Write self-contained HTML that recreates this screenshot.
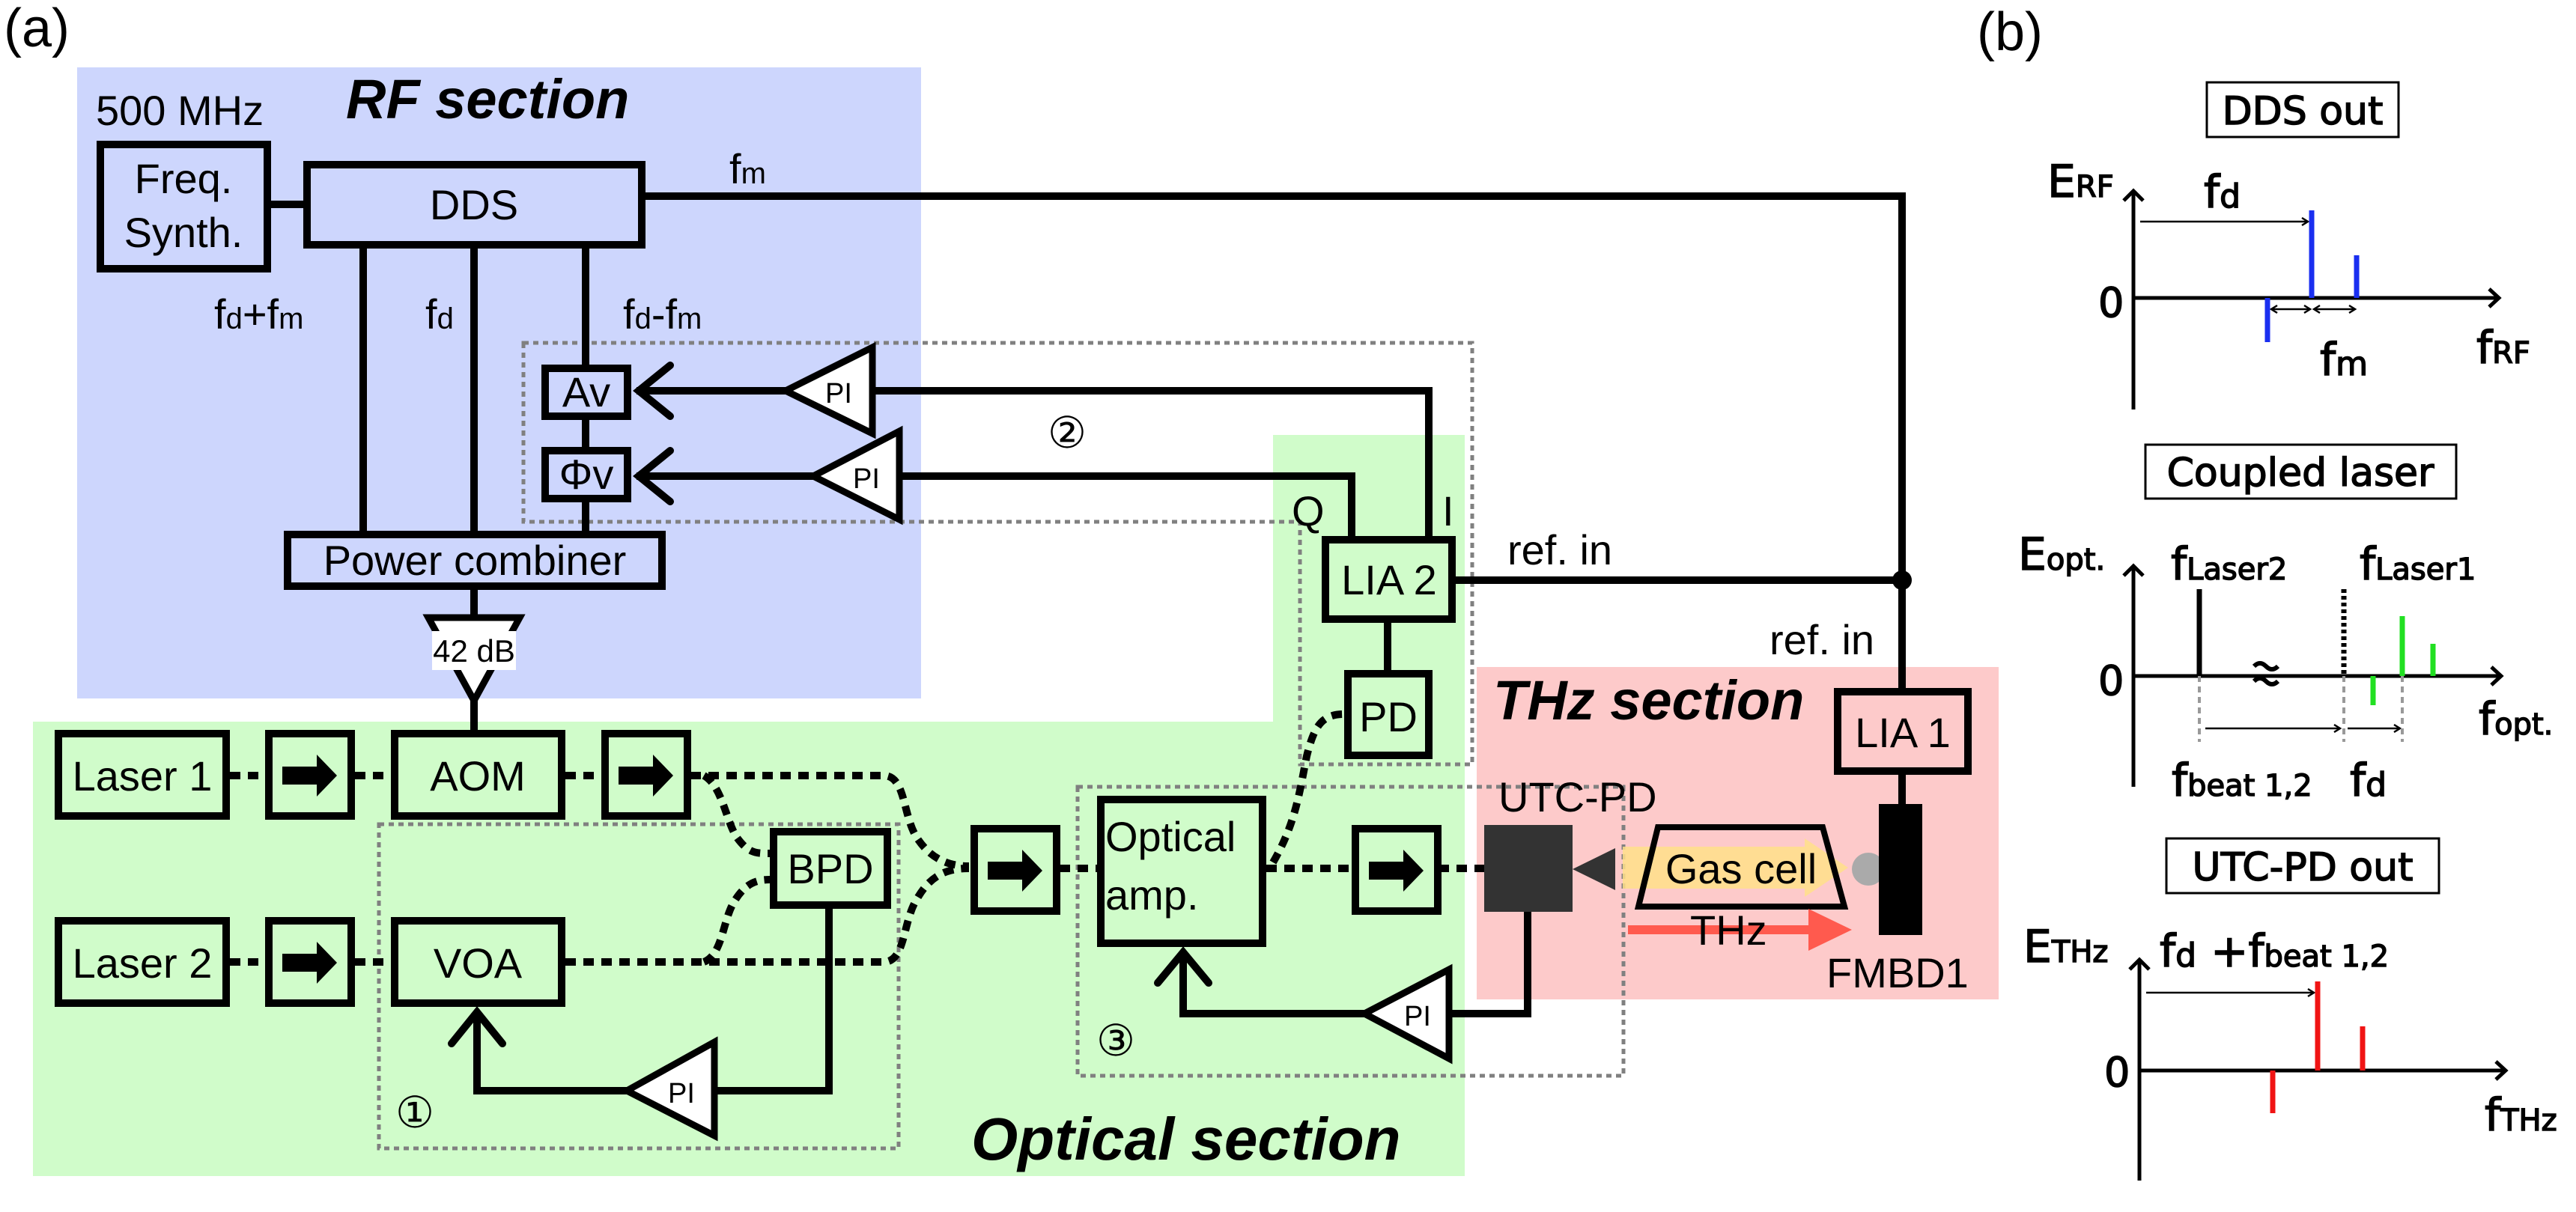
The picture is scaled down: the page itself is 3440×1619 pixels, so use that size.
<!DOCTYPE html>
<html><head><meta charset="utf-8"><style>
html,body{margin:0;padding:0;background:#fff;}
svg{display:block;}
.a{font-family:"Liberation Sans",sans-serif;fill:#000;}
.b{font-family:"DejaVu Sans","Liberation Sans",sans-serif;fill:#000;stroke:#000;stroke-width:1.5;}
</style></head><body>
<svg width="3440" height="1619" viewBox="0 0 3440 1619" xmlns="http://www.w3.org/2000/svg">
<defs>
<g id="iso"><rect x="5" y="5" width="110" height="110" fill="#d0fcca" stroke="#000" stroke-width="10"/><polygon points="23,49 69,49 69,33 96,61 69,89 69,73 23,73" fill="#000"/></g>
</defs>
<rect x="103" y="90" width="1127" height="843" fill="#cdd6fd"/>
<polygon points="44,964 1700,964 1700,581 1956,581 1956,1571 44,1571" fill="#d0fcca"/>
<rect x="1972" y="891" width="697" height="444" fill="#fdcaca"/>

<g class="a">
<text x="5" y="62" font-size="72">(a)</text>
<text x="2640" y="67" font-size="72">(b)</text>
<text x="128" y="167" font-size="56">500 MHz</text>
<text x="462" y="158" font-size="74" font-weight="bold" font-style="italic">RF section</text>
<text x="1994" y="961" font-size="74" font-weight="bold" font-style="italic">THz section</text>
<text x="1297" y="1549" font-size="80" font-weight="bold" font-style="italic">Optical section</text>
</g>

<g fill="none" stroke="#808080" stroke-width="5" stroke-dasharray="7 6">
<polygon points="699,458 1966,458 1966,1021 1736,1021 1736,697 699,697"/>
<rect x="506" y="1101" width="694" height="433"/>
<rect x="1439" y="1051" width="729" height="386"/>
</g>

<g fill="none" stroke="#000" stroke-width="10">
<line x1="362" y1="273" x2="405" y2="273"/>
<polyline points="862,262 2540,262 2540,919"/>
<line x1="1944" y1="775" x2="2540" y2="775"/>
<line x1="485" y1="332" x2="485" y2="709"/>
<line x1="633" y1="332" x2="633" y2="709"/>
<line x1="782" y1="332" x2="782" y2="487"/>
<line x1="782" y1="561" x2="782" y2="597"/>
<line x1="782" y1="671" x2="782" y2="709"/>
<line x1="633" y1="788" x2="633" y2="823"/>
<line x1="633" y1="935" x2="633" y2="975"/>
<line x1="850" y1="522" x2="1049" y2="522"/>
<polyline points="895,488 853,522 895,556" stroke-linecap="round"/>
<polyline points="1165,522 1908,522 1908,716"/>
<line x1="850" y1="636" x2="1086" y2="636"/>
<polyline points="895,602 853,636 895,670" stroke-linecap="round"/>
<polyline points="1201,636 1805,636 1805,716"/>
<line x1="1853" y1="832" x2="1853" y2="895"/>
<line x1="2540" y1="1035" x2="2540" y2="1074"/>
<polyline points="1107,1214 1107,1457 954,1457"/>
<polyline points="837,1457 637,1457 637,1352"/>
<polyline points="603,1394 637,1352 671,1394" stroke-linecap="round"/>
<polyline points="2040,1218 2040,1354 1935,1354"/>
<polyline points="1822,1354 1580,1354 1580,1272"/>
<polyline points="1546,1313 1580,1272 1614,1313" stroke-linecap="round"/>
</g>
<circle cx="2540" cy="775" r="13" fill="#000"/>

<g fill="none" stroke="#000" stroke-width="10" stroke-dasharray="14 10">
<line x1="307" y1="1036" x2="354" y2="1036"/>
<line x1="474" y1="1036" x2="522" y2="1036"/>
<line x1="755" y1="1036" x2="803" y2="1036"/>
<line x1="307" y1="1285" x2="354" y2="1285"/>
<line x1="474" y1="1285" x2="522" y2="1285"/>
<path d="M922,1036 L1180,1036 C1210,1036 1205,1090 1225,1120 C1245,1150 1270,1157 1294,1157"/>
<path d="M940,1036 C965,1050 970,1100 985,1120 C1000,1140 1010,1140 1028,1140"/>
<path d="M755,1285 L1180,1285 C1210,1285 1205,1230 1225,1200 C1245,1165 1270,1160 1294,1160"/>
<path d="M940,1285 C965,1275 965,1230 980,1205 C995,1180 1010,1175 1028,1175"/>
<line x1="1415" y1="1160" x2="1465" y2="1160"/>
<line x1="1691" y1="1160" x2="1805" y2="1160"/>
<line x1="1921" y1="1160" x2="1982" y2="1160"/>
<path d="M1700,1152 C1730,1100 1735,1060 1745,1010 C1755,970 1765,954 1795,954"/>
</g>

<g fill="none" stroke="#000" stroke-width="10">
<rect x="134" y="193" width="223" height="166" fill="#cdd6fd"/>
<rect x="410" y="220" width="447" height="107" fill="#cdd6fd"/>
<rect x="384" y="714" width="500" height="69" fill="#cdd6fd"/>
<rect x="728" y="492" width="110" height="64" fill="#cdd6fd"/>
<rect x="728" y="602" width="110" height="64" fill="#cdd6fd"/>
<rect x="1770" y="721" width="169" height="106" fill="#d0fcca"/>
<rect x="1800" y="900" width="108" height="109" fill="#d0fcca"/>
<rect x="2454" y="924" width="174" height="106" fill="#fdcaca"/>
<rect x="78" y="980" width="224" height="110" fill="#d0fcca"/>
<rect x="527" y="980" width="223" height="110" fill="#d0fcca"/>
<rect x="78" y="1230" width="224" height="110" fill="#d0fcca"/>
<rect x="527" y="1230" width="223" height="110" fill="#d0fcca"/>
<rect x="1033" y="1111" width="152" height="98" fill="#d0fcca"/>
<rect x="1470" y="1068" width="216" height="192" fill="#d0fcca"/>
</g>
<use href="#iso" x="354" y="975"/>
<use href="#iso" x="803" y="975"/>
<use href="#iso" x="354" y="1225"/>
<use href="#iso" x="1296" y="1102"/>
<use href="#iso" x="1805" y="1102"/>

<g fill="#fff" stroke="#000" stroke-width="9">
<polygon points="1049,522 1165,464 1165,579"/>
<polygon points="1086,636 1201,576 1201,694"/>
<polygon points="837,1457 954,1392 954,1517"/>
<polygon points="1822,1354 1935,1295 1935,1414"/>
<polygon points="572,825 694,825 633,936"/>
</g>
<rect x="577" y="843" width="112" height="52" fill="#fff"/>
<g class="a" font-size="38">
<text x="1120" y="538" text-anchor="middle">PI</text>
<text x="1157" y="652" text-anchor="middle">PI</text>
<text x="910" y="1473" text-anchor="middle">PI</text>
<text x="1893" y="1370" text-anchor="middle">PI</text>
<text x="633" y="884" text-anchor="middle" font-size="42">42 dB</text>
</g>

<rect x="1982" y="1102" width="118" height="116" fill="#333"/>
<polygon points="2100,1161 2157,1133 2157,1189" fill="#333"/>
<polygon points="2167,1131 2410,1131 2410,1120 2468,1159 2410,1198 2410,1187 2167,1187" fill="#ffe08a" opacity="0.85"/>
<polygon points="2214,1105 2434,1105 2463,1211 2188,1211" fill="none" stroke="#000" stroke-width="8"/>
<polygon points="2174,1236 2415,1236 2415,1214 2473,1242 2415,1270 2415,1248 2174,1248" fill="#ff5a4e"/>
<circle cx="2495" cy="1161" r="22" fill="#aaa"/>
<rect x="2509" y="1074" width="58" height="175" fill="#000"/>

<g class="a" font-size="56">
<text x="245" y="258" text-anchor="middle">Freq.</text>
<text x="245" y="330" text-anchor="middle">Synth.</text>
<text x="633" y="293" text-anchor="middle">DDS</text>
<text x="634" y="768" text-anchor="middle">Power combiner</text>
<text x="783" y="543" text-anchor="middle">Av</text>
<text x="783" y="653" text-anchor="middle">Φv</text>
<text x="1855" y="794" text-anchor="middle">LIA 2</text>
<text x="1854" y="977" text-anchor="middle">PD</text>
<text x="2541" y="998" text-anchor="middle">LIA 1</text>
<text x="190" y="1056" text-anchor="middle">Laser 1</text>
<text x="638" y="1056" text-anchor="middle">AOM</text>
<text x="190" y="1306" text-anchor="middle">Laser 2</text>
<text x="638" y="1306" text-anchor="middle">VOA</text>
<text x="1109" y="1180" text-anchor="middle">BPD</text>
<text x="1476" y="1137">Optical</text>
<text x="1476" y="1215">amp.</text>
<text x="2001" y="1084">UTC-PD</text>
<text x="2325" y="1180" text-anchor="middle">Gas cell</text>
<text x="2257" y="1262">THz</text>
<text x="2439" y="1319">FMBD1</text>
<text x="2013" y="754">ref. in</text>
<text x="2363" y="874">ref. in</text>
<text x="1725" y="702">Q</text>
<text x="1926" y="702">I</text>
<text x="974" y="245">f<tspan font-size="40">m</tspan></text>
<text x="286" y="439">f<tspan font-size="40">d</tspan>+f<tspan font-size="40">m</tspan></text>
<text x="568" y="439">f<tspan font-size="40">d</tspan></text>
<text x="832" y="439">f<tspan font-size="40">d</tspan>-f<tspan font-size="40">m</tspan></text>
<text x="1425" y="598" text-anchor="middle" font-size="58">②</text>
<text x="554" y="1506" text-anchor="middle" font-size="58">①</text>
<text x="1490" y="1410" text-anchor="middle" font-size="58">③</text>
</g>

<g fill="none" stroke="#000">
<rect x="2947" y="110" width="256" height="73" stroke-width="3"/>
<rect x="2865" y="594" width="415" height="72" stroke-width="3"/>
<rect x="2893" y="1120" width="364" height="73" stroke-width="3"/>
<g stroke-width="5">
<line x1="2849" y1="255" x2="2849" y2="547"/><polyline points="2836,268 2849,255 2862,268"/>
<line x1="2849" y1="398" x2="3337" y2="398"/><polyline points="3324,386 3337,398 3324,410"/>
<line x1="2849" y1="756" x2="2849" y2="1051"/><polyline points="2836,769 2849,756 2862,769"/>
<line x1="2849" y1="903" x2="3340" y2="903"/><polyline points="3327,891 3340,903 3327,915"/>
<line x1="2857" y1="1282" x2="2857" y2="1577"/><polyline points="2844,1295 2857,1282 2870,1295"/>
<line x1="2857" y1="1430" x2="3346" y2="1430"/><polyline points="3333,1418 3346,1430 3333,1442"/>
</g>
<g stroke-width="2.5">
<line x1="2858" y1="296" x2="3082" y2="296"/><polyline points="3074,291 3082,296 3074,301"/>
<line x1="3033" y1="413" x2="3085" y2="413"/><polyline points="3041,408 3033,413 3041,418"/><polyline points="3077,408 3085,413 3077,418"/>
<line x1="3090" y1="413" x2="3145" y2="413"/><polyline points="3098,408 3090,413 3098,418"/><polyline points="3137,408 3145,413 3137,418"/>
<line x1="2945" y1="973" x2="3125" y2="973"/><polyline points="3117,968 3125,973 3117,978"/>
<line x1="3135" y1="973" x2="3205" y2="973"/><polyline points="3197,968 3205,973 3197,978"/>
<line x1="2866" y1="1326" x2="3090" y2="1326"/><polyline points="3082,1321 3090,1326 3082,1331"/>
</g>
<g stroke="#999" stroke-width="4" stroke-dasharray="8 6">
<line x1="2937" y1="903" x2="2937" y2="991"/>
<line x1="3130" y1="903" x2="3130" y2="991"/>
<line x1="3208" y1="903" x2="3208" y2="991"/>
</g>
<g stroke="#1a2ff0" stroke-width="7">
<line x1="3087" y1="281" x2="3087" y2="398"/>
<line x1="3147" y1="341" x2="3147" y2="398"/>
<line x1="3028" y1="398" x2="3028" y2="457"/>
</g>
<line x1="2937" y1="787" x2="2937" y2="903" stroke-width="7"/>
<line x1="3130" y1="787" x2="3130" y2="903" stroke-width="7" stroke-dasharray="5 4"/>
<g stroke="#22e022" stroke-width="7">
<line x1="3208" y1="823" x2="3208" y2="903"/>
<line x1="3249" y1="860" x2="3249" y2="903"/>
<line x1="3169" y1="903" x2="3169" y2="942"/>
</g>
<g stroke="#f01414" stroke-width="7">
<line x1="3095" y1="1311" x2="3095" y2="1430"/>
<line x1="3155" y1="1371" x2="3155" y2="1430"/>
<line x1="3035" y1="1430" x2="3035" y2="1487"/>
</g>
<path d="M3010,890 q8,-8 16,0 t16,0 M3010,910 q8,-8 16,0 t16,0" stroke-width="6"/>
</g>
<g class="b" font-size="52">
<text x="3075" y="166" text-anchor="middle">DDS out</text>
<text x="3072" y="649" text-anchor="middle">Coupled laser</text>
<text x="3075" y="1176" text-anchor="middle">UTC-PD out</text>
<text x="2734" y="263" font-size="60">E<tspan font-size="40">RF</tspan></text>
<text x="2802" y="423" font-size="54">0</text>
<text x="2943" y="277" font-size="60">f<tspan font-size="44">d</tspan></text>
<text x="3098" y="501" font-size="60">f<tspan font-size="44">m</tspan></text>
<text x="3307" y="485" font-size="60">f<tspan font-size="40">RF</tspan></text>
<text x="2695" y="761" font-size="60">E<tspan font-size="40">opt.</tspan></text>
<text x="2802" y="928" font-size="54">0</text>
<text x="2899" y="774" font-size="60">f<tspan font-size="40">Laser2</tspan></text>
<text x="3151" y="774" font-size="60">f<tspan font-size="40">Laser1</tspan></text>
<text x="2900" y="1063" font-size="60">f<tspan font-size="40">beat 1,2</tspan></text>
<text x="3138" y="1063" font-size="60">f<tspan font-size="44">d</tspan></text>
<text x="3310" y="981" font-size="60">f<tspan font-size="40">opt.</tspan></text>
<text x="2702" y="1285" font-size="60">E<tspan font-size="40">THz</tspan></text>
<text x="2810" y="1451" font-size="54">0</text>
<text x="2884" y="1291" font-size="60">f<tspan font-size="44">d</tspan> +f<tspan font-size="40">beat 1,2</tspan></text>
<text x="3318" y="1510" font-size="60">f<tspan font-size="40">THz</tspan></text>
</g>
</svg>
</body></html>
